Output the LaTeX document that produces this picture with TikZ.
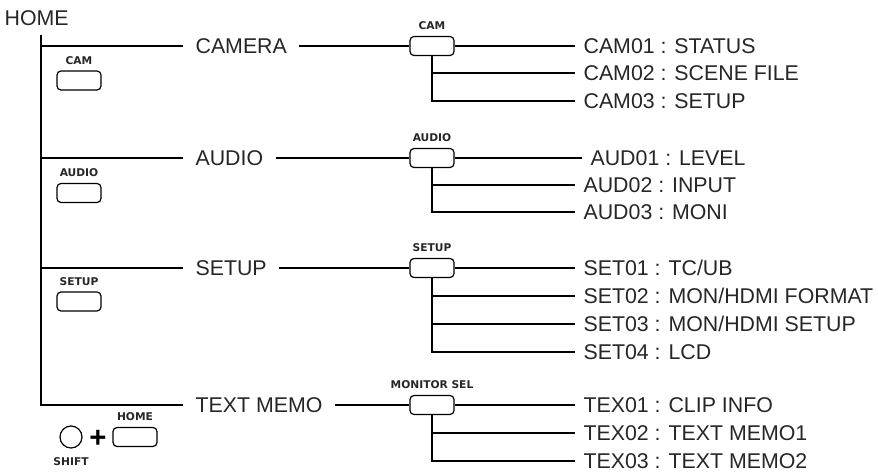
\documentclass[tikz,border=0pt]{standalone}
\usepackage{fontspec}
\setmainfont{Liberation Sans}
\newfontfamily\keyfont{DejaVu Sans}
\usetikzlibrary{positioning}

\begin{document}
\begin{tikzpicture}[x=0.75pt, y=-0.75pt, line width=0.9pt,
		menu/.style={anchor=west, inner xsep=9pt, inner ysep=0pt, text height=11.5pt, text depth=0pt,
			font=\fontsize{16}{18}\selectfont, text=black!85},
		entry/.style={menu, inner xsep=6pt},
		keybtn/.style={draw, rounded corners=3pt, minimum width=33pt, minimum height=14.25pt, inner sep=0pt},
		keyname/.style={inner sep=0pt, text depth=0pt, font=\keyfont\bfseries\fontsize{8}{9}\selectfont, text=black!85}]
		\useasboundingbox (0,0) rectangle (878,473);

		% top of the tree
		\node[menu, inner xsep=0pt] (home) at (4,18) {HOME};
		\coordinate (trunk) at (41,35);

		% first level
		\node[menu] (camera) at (183,46) {CAMERA};
		\node[menu] (audio) at (183,158) {AUDIO};
		\node[menu] (setup) at (183,268) {SETUP};
		\node[menu] (textmemo) at (183,405) {TEXT MEMO};

		% keys on the left
		\node[keybtn] (camkey) at (79,80.5) {};
		\node[keyname, above=4pt of camkey] (camkeyname) {CAM};
		\node[keybtn] (audiokey) at (79,193) {};
		\node[keyname, above=4pt of audiokey] (audiokeyname) {AUDIO};
		\node[keybtn] (setupkey) at (79,301.5) {};
		\node[keyname, above=4pt of setupkey] (setupkeyname) {SETUP};

		\node[draw, circle, minimum size=16.5pt, inner sep=0pt] (shiftkey) at (71,437) {};
		\node[keyname, below=6pt of shiftkey] (shiftkeyname) {SHIFT};
		\node[inner sep=0pt, font=\bfseries\fontsize{22}{22}\selectfont] (plus) at (98,438.5) {+};
		\node[keybtn] (homekey) at (135,437) {};
		\node[keyname, above=4pt of homekey] (homekeyname) {HOME};

		% keys on the branches
		\node[keybtn] (cambtn) at (432,46) {};
		\node[keyname, above=4pt of cambtn] (cambtnname) {CAM};
		\node[keybtn] (audiobtn) at (432,158) {};
		\node[keyname, above=4pt of audiobtn] (audiobtnname) {AUDIO};
		\node[keybtn] (setupbtn) at (432,268) {};
		\node[keyname, above=4pt of setupbtn] (setupbtnname) {SETUP};
		\node[keybtn] (monbtn) at (432,405) {};
		\node[keyname, above=4pt of monbtn] (monbtnname) {MONITOR SEL};

		% second level
		\node[entry] (cam01) at (575,46) {CAM01 : STATUS};
		\node[entry] (cam02) at (575,73) {CAM02 : SCENE FILE};
		\node[entry] (cam03) at (575,101) {CAM03 : SETUP};
		\node[entry] (aud01) at (582,158) {AUD01 : LEVEL};
		\node[entry] (aud02) at (575,185) {AUD02 : INPUT};
		\node[entry] (aud03) at (575,212) {AUD03 : MONI};
		\node[entry] (set01) at (575,268) {SET01 : TC/UB};
		\node[entry] (set02) at (575,296) {SET02 : MON/HDMI FORMAT};
		\node[entry] (set03) at (575,324) {SET03 : MON/HDMI SETUP};
		\node[entry] (set04) at (575,352) {SET04 : LCD};
		\node[entry] (tex01) at (575,405) {TEX01 : CLIP INFO};
		\node[entry] (tex02) at (575,433) {TEX02 : TEXT MEMO1};
		\node[entry] (tex03) at (575,461) {TEX03 : TEXT MEMO2};

		% lines
		\draw (trunk) |- (textmemo.west);
		\foreach \m in {camera, audio, setup}
			\draw (trunk |- \m.west) -- (\m.west);

		\foreach \m/\b/\f/\l in {camera/cambtn/cam01/cam03, audio/audiobtn/aud01/aud03,
				setup/setupbtn/set01/set04, textmemo/monbtn/tex01/tex03} {
			\draw (\m.east) -- (\b.west);
			\draw (\b.east) -- (\b.east -| \f.west);
			\draw (\b.south) |- (\l.west);
		}
		\foreach \b/\e in {cambtn/cam02, audiobtn/aud02, setupbtn/set02, setupbtn/set03, monbtn/tex02}
			\draw (\b.south |- \e.west) -- (\e.west);
	\end{tikzpicture}
\end{document}
